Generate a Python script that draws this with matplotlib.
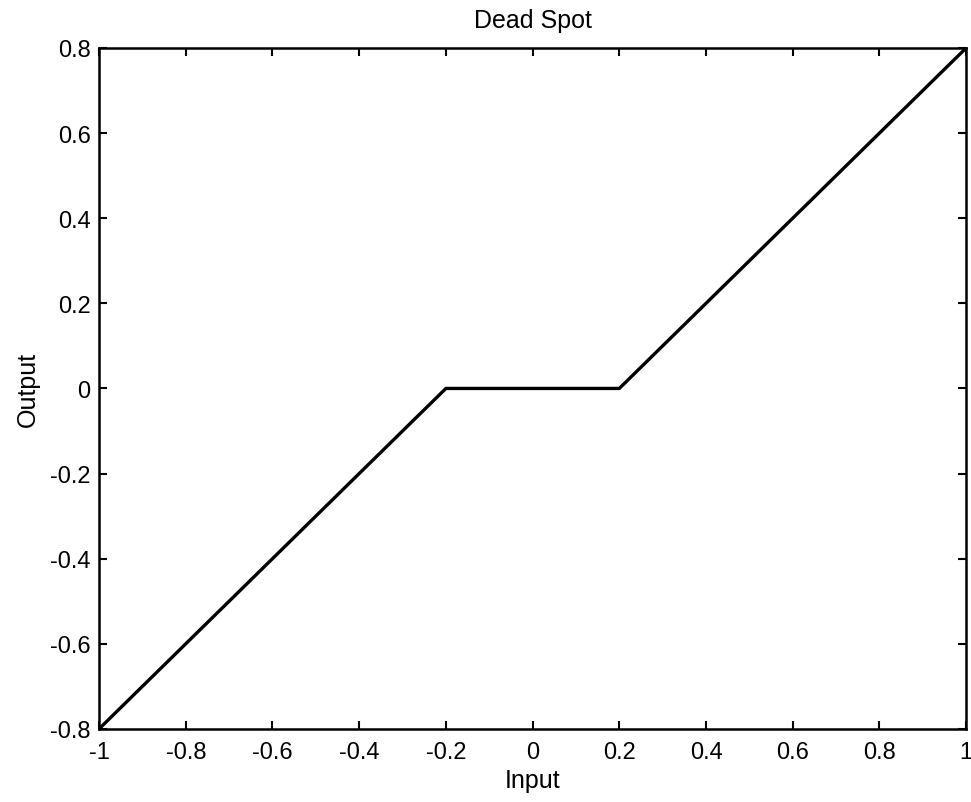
import matplotlib
matplotlib.use('Agg')
import matplotlib.pyplot as plt

plt.rcParams['font.family'] = ['Liberation Sans', 'DejaVu Sans']

# dead zone breakpoints: input vs output
x_in = [-1.0, -0.2, 0.2, 1.0]
y_out = [-0.8, 0.0, 0.0, 0.8]

xticks = [-1, -0.8, -0.6, -0.4, -0.2, 0, 0.2, 0.4, 0.6, 0.8, 1]
yticks = [-0.8, -0.6, -0.4, -0.2, 0, 0.2, 0.4, 0.6, 0.8]

fig = plt.figure(figsize=(9.71, 8.03), dpi=100)
ax = fig.add_axes([0.102, 0.091, 0.893, 0.848])
ax.plot(x_in, y_out, color='k', linewidth=2.4)

ax.set_xlim(-1, 1)
ax.set_ylim(-0.8, 0.8)
ax.set_xticks(xticks)
ax.set_yticks(yticks)
ax.set_xticklabels(['%g' % t for t in xticks])
ax.set_yticklabels(['%g' % t for t in yticks])
ax.tick_params(direction='in', top=True, right=True, length=6, width=1.5,
               labelsize=17)
ax.tick_params(axis='x', pad=9)
ax.tick_params(axis='y', pad=6)
for s in ax.spines.values():
    s.set_linewidth(1.8)

ax.set_xlabel('Input', fontsize=18, labelpad=3)
ax.set_ylabel('Output', fontsize=18, labelpad=7)
ax.set_title('Dead Spot', fontsize=18, pad=15)

fig.savefig('out.png', dpi=100)
